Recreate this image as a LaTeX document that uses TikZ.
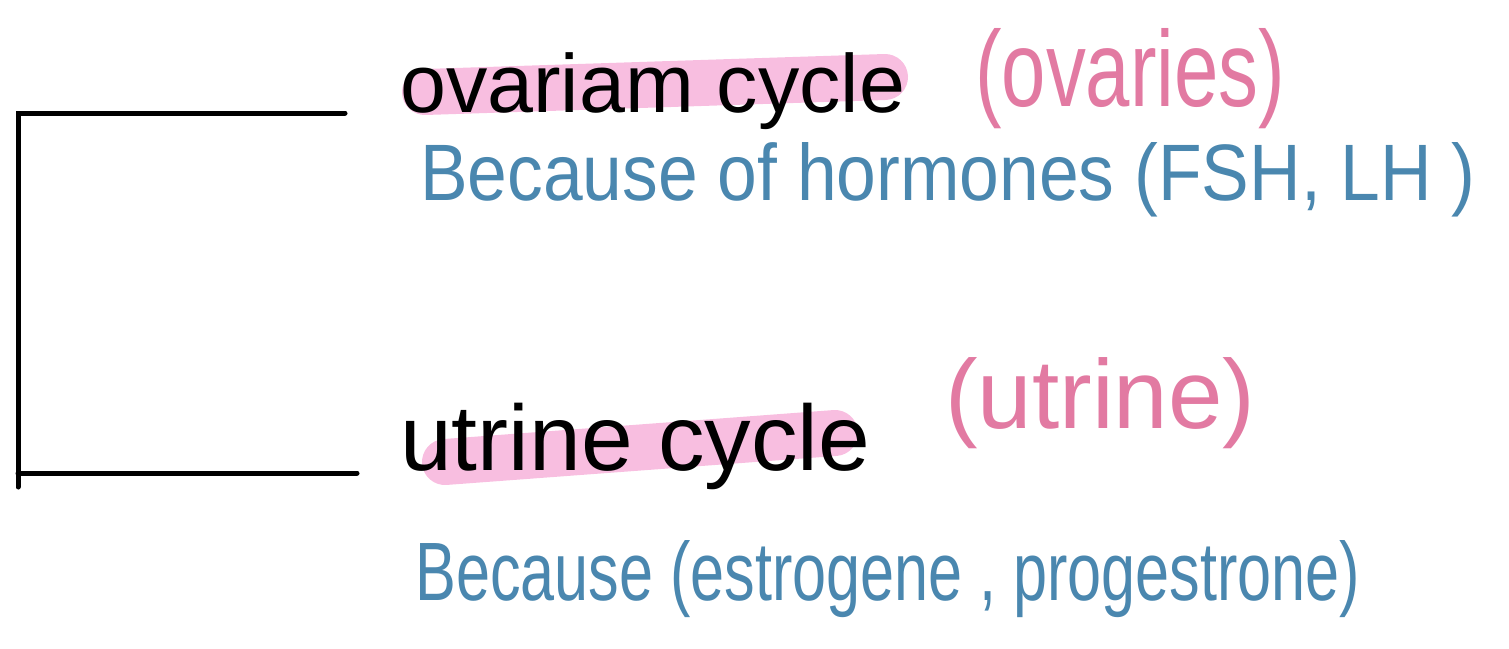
\documentclass[tikz,border=0pt]{standalone}
\usepackage{fontspec}
\setmainfont{Liberation Sans}
\usepackage{graphicx}
\definecolor{hl}{HTML}{F8BEE0}
\definecolor{pinkt}{HTML}{E27AA2}
\definecolor{bluet}{HTML}{4A87AF}
\tikzset{
  bracket/.style={line width=5pt, line cap=round, black},
  highlight/.style={line width=46pt, line cap=round, hl},
  maintext/.style={anchor=base west, inner sep=0pt, text=black},
  notetext/.style={anchor=base west, inner sep=0pt, text=pinkt},
  reasontext/.style={anchor=base west, inner sep=0pt, text=bluet},
}
\begin{document}
\begin{tikzpicture}[x=1pt,y=-1pt]
\useasboundingbox (0,0) rectangle (1509,648);
% bracket
\coordinate (tl) at (18,113);
\coordinate (tr) at (345,113);
\coordinate (bl) at (18,473);
\coordinate (br) at (357,473);
\coordinate (bend) at (18,487);
\draw[bracket] (tr) -- (tl) -- (bend);
\draw[bracket] (bl) -- (br);
% highlights
\coordinate (h1a) at (425,92);
\coordinate (h1b) at (885,77);
\coordinate (h2a) at (445,462);
\coordinate (h2b) at (835,433);
\draw[highlight] (h1a) -- (h1b);
\draw[highlight] (h2a) -- (h2b);
% texts
\node[maintext] (ov) at (400,112) {\resizebox{505pt}{!}{ovariam cycle}};
\node[notetext] (ovn) at (975,106) {\resizebox{310pt}{78pt}{(ovaries)}};
\node[reasontext] (ovr) at (420,200) {\resizebox{1055pt}{58pt}{Because of hormones (FSH, LH )}};
\node[maintext] (ut) at (400,470) {\resizebox{470pt}{!}{utrine cycle}};
\node[notetext] (utn) at (945,428) {\resizebox{310pt}{!}{(utrine)}};
\node[reasontext] (utr) at (415,600) {\resizebox{945pt}{60pt}{Because (estrogene , progestrone)}};
\end{tikzpicture}
\end{document}
